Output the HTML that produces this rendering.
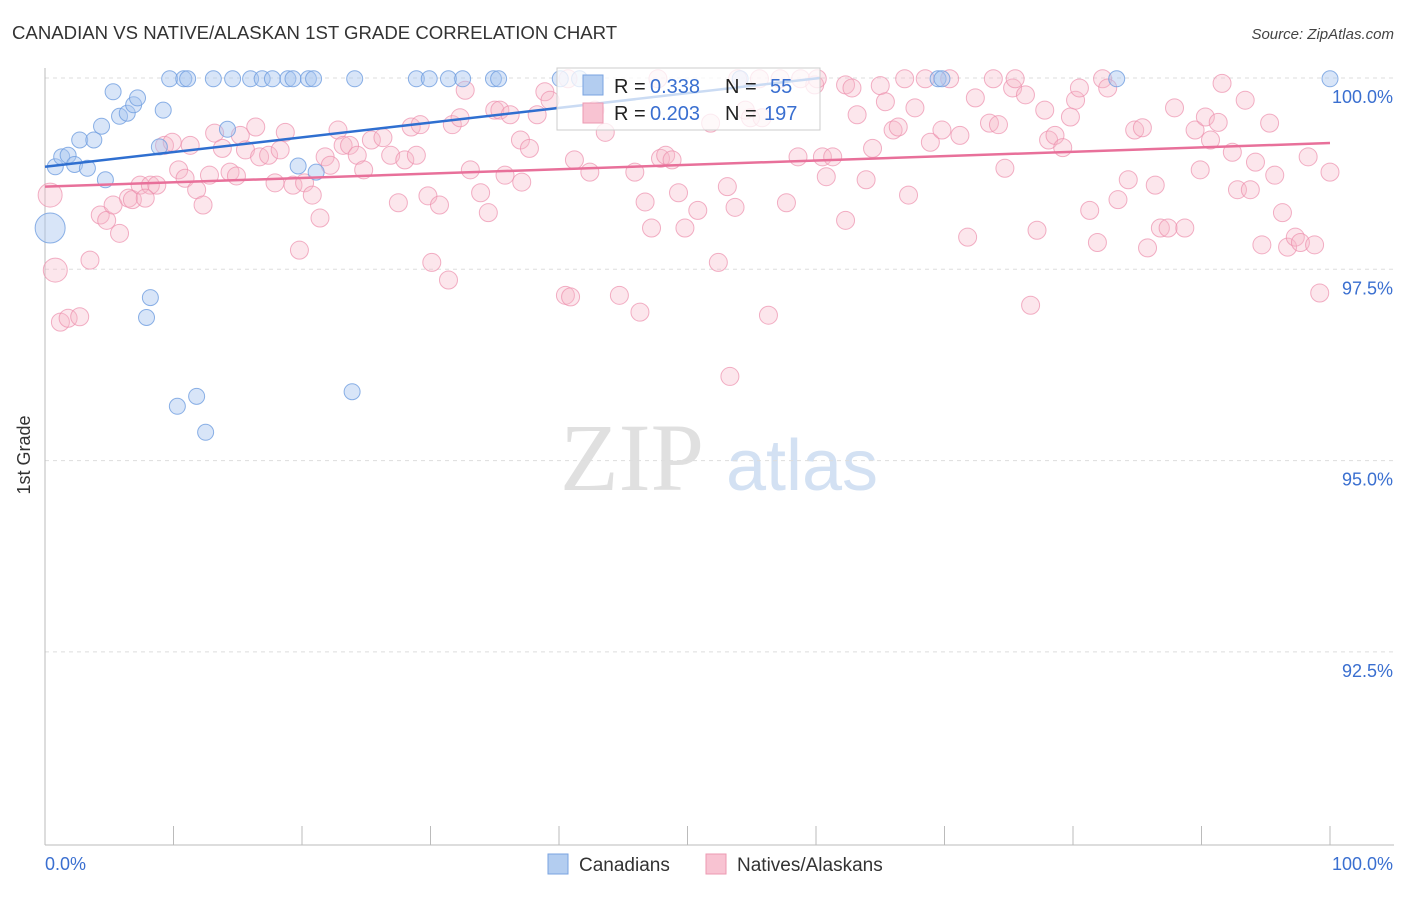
<!DOCTYPE html>
<html><head><meta charset="utf-8"><style>
body{margin:0;background:#fff;font-family:"Liberation Sans",sans-serif;}
svg text{font-family:"Liberation Sans",sans-serif;}
</style></head><body>
<svg id="chart" width="1406" height="892" viewBox="0 0 1406 892">
<text x="12" y="39" font-size="18.6" fill="#333">CANADIAN VS NATIVE/ALASKAN 1ST GRADE CORRELATION CHART</text>
<text x="1394" y="39" font-size="15" fill="#444" text-anchor="end" font-style="italic">Source: ZipAtlas.com</text>
<text x="30" y="455" font-size="18" fill="#333" text-anchor="middle" transform="rotate(-90 30 455)">1st Grade</text>
<g>
<text x="632" y="490" font-size="96" fill="#e0e0e0" text-anchor="middle" font-family="Liberation Serif" style="font-family:'Liberation Serif',serif">ZIP</text>
<text x="802" y="490" font-size="72" fill="#d3e1f3" text-anchor="middle">atlas</text>
</g>
<g id="grid"></g>
<g id="axes"></g>
<g id="pink"></g>
<g id="blue"></g>
<g id="trends"></g>
<g>
<rect x="557" y="68" width="263" height="62" fill="#fff" fill-opacity="0.75" stroke="#ccc"/>
<rect x="583" y="75" width="20" height="20" fill="#b3cdf0" stroke="#7aa3e0"/>
<rect x="583" y="103" width="20" height="20" fill="#f8c3d2" stroke="#ec9ab2"/>
<text x="614" y="93" font-size="20" fill="#222">R = </text><text x="650" y="93" font-size="20" fill="#3a6fd0">0.338</text>
<text x="725" y="93" font-size="20" fill="#222">N = </text><text x="770" y="93" font-size="20" fill="#3a6fd0">55</text>
<text x="614" y="120" font-size="20" fill="#222">R = </text><text x="650" y="120" font-size="20" fill="#3a6fd0">0.203</text>
<text x="725" y="120" font-size="20" fill="#222">N = </text><text x="764" y="120" font-size="20" fill="#3a6fd0">197</text>
</g>
<g>
<rect x="548" y="854" width="20" height="20" fill="#b3cdf0" stroke="#7aa3e0"/>
<text x="579" y="871" font-size="19" fill="#333">Canadians</text>
<rect x="706" y="854" width="20" height="20" fill="#f8c3d2" stroke="#ec9ab2"/>
<text x="737" y="871" font-size="19" fill="#333">Natives/Alaskans</text>
</g>
</svg>
<script>
const yTicks=[100,97.5,95,92.5];
const yTickLabels=["100.0%","97.5%","95.0%","92.5%"];
const xTickLabels=["0.0%","100.0%"];
const blueX=[0.8,1.3,1.8,2.3,2.7,3.3,3.8,4.4,4.7,5.3,5.8,6.4,6.9,7.2,8.9,9.2,9.7,10.8,11.1,13.1,14.6,16.0,16.9,17.7,18.9,19.3,20.5,20.9,14.2,19.7,21.1,24.1,28.9,29.9,31.4,32.5,34.9,35.3,40.1,41.6,54.1,69.5,69.8,83.4,100,8.2,7.9,10.3,11.8,12.5,23.9,0.4];
const blueY=[98.84,98.97,98.99,98.87,99.19,98.82,99.19,99.37,98.67,99.82,99.50,99.54,99.65,99.74,99.10,99.58,99.99,99.99,99.99,99.99,99.99,99.99,99.99,99.99,99.99,99.99,99.99,99.99,99.33,98.85,98.77,99.99,99.99,99.99,99.99,99.99,99.99,99.99,99.99,99.99,99.99,99.99,99.99,99.99,99.99,97.13,96.87,95.71,95.84,95.37,95.90,98.04];
const blueR=[8,8,8,8,8,8,8,8,8,8,8,8,8,8,8,8,8,8,8,8,8,8,8,8,8,8,8,8,8,8,8,8,8,8,8,8,8,8,8,8,8,8,8,8,8,8,8,8,8,8,8,15];
const pinkX=[0.4,0.8,1.2,1.8,2.7,3.5,4.3,4.8,5.3,5.8,6.5,6.8,7.4,8.2,8.7,7.8,9.3,9.9,10.4,10.9,11.3,11.8,12.3,12.8,13.2,13.8,14.4,14.9,15.2,15.6,16.4,16.7,17.4,17.9,18.3,18.7,19.3,19.8,20.2,20.8,21.4,21.8,22.2,22.8,23.2,23.7,24.3,24.8,25.4,26.3,26.9,27.5,28.0,28.5,28.9,29.2,29.8,30.1,30.7,31.4,31.7,32.3,32.7,33.1,33.9,34.5,35.0,35.4,36.2,35.8,37.0,37.1,37.7,38.3,38.9,39.3,40.5,40.9,41.2,42.4,42.8,43.6,44.7,45.9,46.3,46.7,47.2,47.9,48.3,48.8,49.3,49.8,50.8,51.8,52.4,53.1,53.3,53.7,54.5,54.9,55.8,56.3,57.7,58.6,59.9,60.5,60.8,61.3,62.3,62.3,62.8,63.2,63.9,64.4,65.0,65.4,66.0,66.4,66.9,67.2,67.7,68.5,68.9,69.8,70.4,71.2,71.8,72.4,73.5,73.8,74.2,74.7,75.3,75.5,76.3,76.7,77.2,77.8,78.1,78.6,79.2,79.8,80.2,80.5,81.3,81.9,82.3,82.7,83.5,84.3,84.8,85.4,85.8,86.4,86.8,87.4,87.9,88.7,89.5,89.9,90.3,90.7,91.3,91.6,92.4,92.8,93.4,93.8,94.2,94.7,95.3,95.7,96.3,96.7,97.3,97.7,98.3,98.8,99.2,100,53.9,55.6,57.2,58.8,60.1,47.7,40.7];
const pinkY=[98.47,97.49,96.81,96.86,96.88,97.62,98.21,98.14,98.34,97.97,98.43,98.41,98.60,98.60,98.60,98.43,99.12,99.16,98.80,98.69,99.12,98.54,98.34,98.73,99.28,99.08,98.77,98.72,99.25,99.06,99.36,98.97,98.99,98.63,99.06,99.29,98.60,97.75,98.63,98.47,98.17,98.97,98.86,99.32,99.12,99.12,98.99,98.80,99.19,99.22,98.99,98.37,98.93,99.36,98.99,99.39,98.46,97.59,98.34,97.36,99.39,99.48,99.84,98.80,98.50,98.24,99.58,99.58,99.52,98.73,99.19,98.64,99.08,99.52,99.82,99.71,97.16,97.14,98.93,98.77,99.58,99.29,97.16,98.77,96.94,98.38,98.04,98.95,98.99,98.93,98.50,98.04,98.27,99.41,97.59,98.58,96.10,98.31,99.58,99.48,99.48,96.90,98.37,98.97,99.91,98.97,98.71,98.97,98.14,99.91,99.87,99.52,98.67,99.08,99.90,99.69,99.32,99.36,99.99,98.47,99.61,99.99,99.16,99.32,99.99,99.25,97.92,99.74,99.41,99.99,99.39,98.82,99.87,99.99,99.78,97.03,98.01,99.58,99.19,99.25,99.09,99.49,99.71,99.87,98.27,97.85,99.99,99.87,98.41,98.67,99.32,99.35,97.78,98.60,98.04,98.04,99.61,98.04,99.32,98.80,99.49,99.19,99.42,99.93,99.03,98.54,99.71,98.54,98.90,97.82,99.41,98.73,98.24,97.79,97.92,97.85,98.97,97.82,97.19,98.77,99.99,99.99,99.99,99.99,99.99,99.99,99.99];
const blueTrend=[[0,98.84],[60.3,100]];
const pinkTrend=[[0,98.58],[100,99.15]];
const X=v=>45+v*12.85;
const Y=v=>78+(100-v)*76.52;
const NS="http://www.w3.org/2000/svg";
function mk(tag,parent,attrs){const e=document.createElementNS(NS,tag);for(const k in attrs)e.setAttribute(k,attrs[k]);document.getElementById(parent).appendChild(e);return e;}
yTicks.forEach((t,i)=>{
 const l=mk('line','grid',{x1:45,x2:1394,y1:Y(t),y2:Y(t),stroke:'#ddd','stroke-dasharray':'4,4'});
 
 
 const tx=mk('text','grid',{x:1393,y:Y(t)+25,'font-size':18,fill:'#3a6fd0','text-anchor':'end'});
 tx.textContent=yTickLabels[i];
 
 
});
const ax=mk('line','axes',{x1:45,x2:1394,y1:845,y2:845,stroke:'#bbb'});


const ay=mk('line','axes',{x1:45,x2:45,y1:68,y2:845,stroke:'#bbb'});


for(let i=0;i<=10;i++){
 const t=mk('line','axes',{x1:X(i*10),x2:X(i*10),y1:826,y2:845,stroke:'#bbb'});
 
 
}
[[0,'start'],[100,'end']].forEach((p,i)=>{
 const t=mk('text','axes',{x:p[0]==0?45:1393,y:870,'font-size':18,fill:'#3a6fd0','text-anchor':p[1]});
 t.textContent=xTickLabels[i];
 
 
});
pinkX.forEach((v,i)=>{
 const r=(i<2)?12:9;
 const c=mk('circle','pink',{cx:X(v),cy:Y(pinkY[i]),r:r,fill:'#f7b6c9','fill-opacity':0.35,stroke:'#ec8fac','stroke-opacity':0.7});
 
 
});
blueX.forEach((v,i)=>{
 const c=mk('circle','blue',{cx:X(v),cy:Y(blueY[i]),r:blueR[i],fill:'#a9c6ef','fill-opacity':0.45,stroke:'#6f9ee0','stroke-opacity':0.8});
 
 
});
const bt=mk('line','trends',{x1:X(blueTrend[0][0]),y1:Y(blueTrend[0][1]),x2:X(blueTrend[1][0]),y2:Y(blueTrend[1][1]),stroke:'#2f6fd0','stroke-width':2.5});


const pt=mk('line','trends',{x1:X(pinkTrend[0][0]),y1:Y(pinkTrend[0][1]),x2:X(pinkTrend[1][0]),y2:Y(pinkTrend[1][1]),stroke:'#e8709a','stroke-width':2.5});


</script>
</body></html>
